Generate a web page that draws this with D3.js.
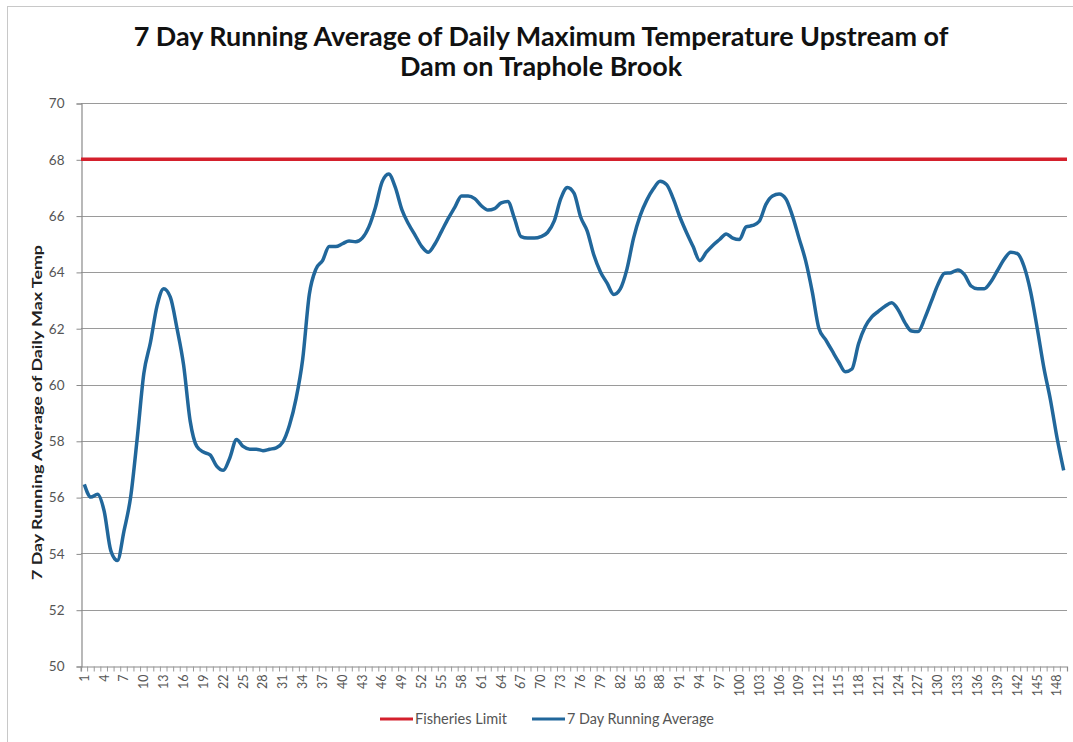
<!DOCTYPE html>
<html><head><meta charset="utf-8">
<script src="https://cdn.jsdelivr.net/npm/d3@7"></script>
<style>body{margin:0;background:#fff}svg{display:block}</style>
</head><body>
<script>
const titleLines = ["7 Day Running Average of Daily Maximum Temperature Upstream of", "Dam on Traphole Brook"];
const yAxisTitle = "7 Day Running Average of Daily Max Temp";
const seriesNames = ["Fisheries Limit", "7 Day Running Average"];
const fisheriesLimit = 68;
const runningAverage = [
56.45,56.0,56.1,55.5,54.1,53.75,54.8,56.0,58.1,60.4,
61.5,62.8,63.4,63.1,62.0,60.7,58.7,57.8,57.6,57.5,
57.1,56.95,57.4,58.05,57.8,57.7,57.7,57.65,57.7,57.75,
57.95,58.55,59.5,60.9,63.2,64.1,64.4,64.9,64.9,65.0,
65.1,65.07,65.2,65.6,66.3,67.2,67.48,67.0,66.2,65.7,
65.3,64.9,64.7,65.0,65.45,65.9,66.3,66.7,66.7,66.6,
66.35,66.2,66.25,66.45,66.5,65.9,65.25,65.2,65.2,65.25,
65.4,65.8,66.6,67.0,66.8,65.95,65.45,64.6,64.0,63.6,
63.2,63.4,64.1,65.2,66.0,66.55,66.95,67.22,67.1,66.6,
65.95,65.4,64.9,64.4,64.7,64.95,65.15,65.35,65.2,65.15,
65.6,65.65,65.8,66.4,66.7,66.77,66.6,66.0,65.2,64.4,
63.3,62.0,61.6,61.2,60.8,60.45,60.55,61.45,62.05,62.4,
62.6,62.78,62.9,62.65,62.2,61.9,61.88,62.35,62.95,63.55,
63.95,63.97,64.07,63.9,63.5,63.4,63.4,63.65,64.05,64.45,
64.7,64.65,64.2,63.3,62.0,60.6,59.45,58.1,56.95
];
const categories = runningAverage.map((d, i) => i + 1);
const yTicks = [50,52,54,56,58,60,62,64,66,68,70];

const W = 1073, H = 742;
const m = {left: 81, right: 1067, top: 103, bottom: 666};
const FONT = "Lato, 'Open Sans', sans-serif";
const svg = d3.select("body").append("svg").attr("width", W).attr("height", H);

function fit(sel, target) {
  sel.each(function() {
    const el = d3.select(this);
    const fs = parseFloat(el.attr("font-size"));
    const w = this.getComputedTextLength();
    if (w > 0) el.attr("font-size", (fs * target / w).toFixed(2));
  });
}

// frame
svg.append("rect").attr("x", 7.5).attr("y", 6.5).attr("width", W + 10).attr("height", H + 10)
  .attr("fill", "#fff").attr("stroke", "#c8c8c8").attr("stroke-width", 1);

const x = d3.scaleBand().domain(categories).range([m.left, m.right]).paddingInner(0).paddingOuter(0);
const xc = d => x(d) + x.bandwidth() / 2;
const y = d3.scaleLinear().domain([50, 70]).range([m.bottom, m.top]);

// gridlines
svg.append("g").selectAll("line").data(yTicks.filter(t => t > 50)).join("line")
  .attr("x1", m.left).attr("x2", m.right)
  .attr("y1", d => Math.round(y(d)) + 0.5).attr("y2", d => Math.round(y(d)) + 0.5)
  .attr("stroke", "#9a9a9a").attr("stroke-width", 1.2);

// y axis
const yAxis = d3.axisLeft(y).tickValues(yTicks).tickSize(5).tickPadding(12);
const gy = svg.append("g").attr("transform", `translate(${m.left + 0.5},0.5)`).call(yAxis);
gy.select(".domain").attr("stroke", "#8a8a8a").attr("stroke-width", 1.2);
gy.selectAll(".tick line").attr("stroke", "#8a8a8a");
gy.selectAll(".tick text").attr("font-family", FONT).attr("font-size", 13.5).attr("fill", "#555");

// x axis
const xAxis = d3.axisBottom(x).tickValues(categories).tickSize(5).tickPadding(4)
  .tickFormat(d => ((d - 1) % 3 === 0 ? d : ""));
const gx = svg.append("g").attr("transform", `translate(0,${m.bottom + 0.5})`).call(xAxis);
gx.select(".domain").attr("stroke", "#8a8a8a").attr("stroke-width", 1.2);
gx.selectAll(".tick line").attr("stroke", "#9a9a9a").attr("transform", `translate(${-x.bandwidth()/2},0)`);
gx.selectAll(".tick text")
  .attr("font-family", FONT).attr("font-size", 12.5).attr("fill", "#555")
  .attr("transform", "rotate(-90)").attr("text-anchor", "end")
  .attr("dy", "0.35em").attr("x", -8).attr("y", 0);

// y axis title
svg.append("text").attr("transform", `translate(42,${(245 + 580) / 2}) rotate(-90)`)
  .attr("text-anchor", "middle").attr("font-family", FONT).attr("font-weight", "bold")
  .attr("font-size", 12.5).attr("fill", "#222")
  .attr("textLength", 335).attr("lengthAdjust", "spacingAndGlyphs").text(yAxisTitle);

// title
const tt = svg.append("g").selectAll("text").data(titleLines).join("text")
  .attr("x", 541).attr("y", (d, i) => 46 + i * 30).attr("text-anchor", "middle")
  .attr("font-family", FONT).attr("font-weight", "bold").attr("font-size", 22)
  .attr("fill", "#111").text(d => d);
fit(tt.filter((d, i) => i === 0), 815);
tt.filter((d, i) => i === 1).attr("font-size", tt.filter((d, i) => i === 0).attr("font-size"));

// fisheries limit line
svg.append("line").attr("x1", m.left).attr("x2", m.right)
  .attr("y1", y(fisheriesLimit)).attr("y2", y(fisheriesLimit))
  .attr("stroke", "#d4202c").attr("stroke-width", 3.5);

// running average line
const line = d3.line().x((d, i) => xc(categories[i])).y(d => y(d)).curve(d3.curveMonotoneX);
svg.append("path").datum(runningAverage).attr("d", line)
  .attr("fill", "none").attr("stroke", "#21679b").attr("stroke-width", 3.5).attr("stroke-linejoin", "round");

// legend
const legend = svg.append("g").attr("font-family", FONT).attr("fill", "#555");
const legItems = [{name: seriesNames[0], color: "#d4202c", x: 380, w: 92}, {name: seriesNames[1], color: "#21679b", x: 532, w: 147}];
legItems.forEach(it => {
  legend.append("line").attr("x1", it.x).attr("x2", it.x + 33).attr("y1", 719).attr("y2", 719)
    .attr("stroke", it.color).attr("stroke-width", 3);
  const t = legend.append("text").attr("x", it.x + 35).attr("y", 723.5).attr("font-size", 12).text(it.name);
  fit(t, it.w);
});
</script>
</body></html>
